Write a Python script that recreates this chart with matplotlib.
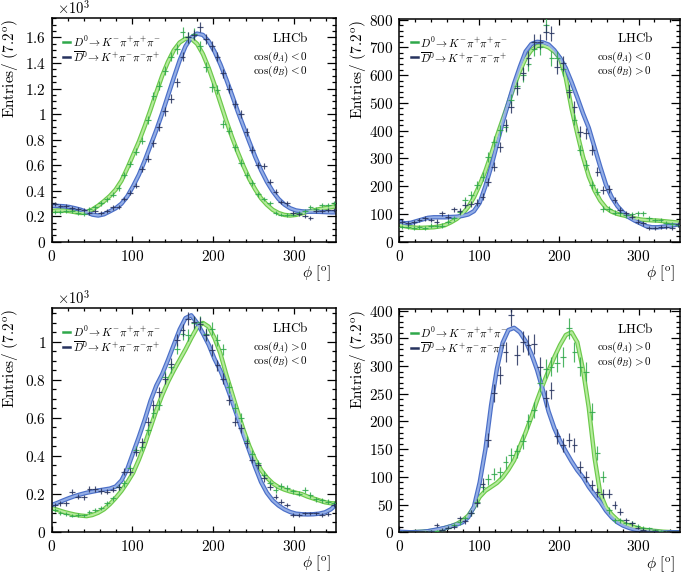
import numpy as np
import matplotlib
matplotlib.use("Agg")
import matplotlib.pyplot as plt
from matplotlib.ticker import MultipleLocator, FuncFormatter

plt.rcParams['mathtext.fontset'] = 'cm'
plt.rcParams['font.family'] = ['DejaVu Serif']

# ---------------- data ----------------
bin_width = 7.2
phi_centres = np.arange(49) * bin_width + bin_width / 2   # bin centres (deg)
fit_phi = np.arange(51) * bin_width                       # fit grid (deg)

# Panel 1: cos(theta_A)<0, cos(theta_B)<0
p1_d0 = [235, 230, 243, 238, 222, 220, 258, 272, 300, 332, 368, 420, 520, 610, 705, 790, 950,
         1140, 1220, 1340, 1450, 1510, 1640, 1600, 1630, 1530, 1370, 1210, 1190, 920, 870, 740,
         620, 520, 460, 370, 335, 305, 225, 212, 210, 212, 222, 240, 270, 258, 288, 290, 300]
p1_d0bar = [295, 282, 278, 262, 258, 245, 222, 238, 225, 238, 268, 272, 335, 385, 440, 570, 650,
            770, 900, 1020, 1120, 1250, 1450, 1600, 1620, 1680, 1590, 1530, 1450, 1320, 1200, 1080,
            1000, 860, 720, 600, 590, 470, 390, 310, 300, 225, 220, 200, 185, 240, 238, 245, 250]
p1_fit_d0 = [240, 245, 245, 240, 232, 225, 232, 252, 282, 318, 358, 408, 478, 575, 680, 785, 905,
             1035, 1170, 1300, 1410, 1500, 1560, 1590, 1590, 1550, 1470, 1360, 1230, 1090, 950, 820,
             700, 590, 490, 410, 340, 290, 250, 225, 210, 205, 210, 222, 235, 245, 255, 262, 270,
             280, 285]
p1_fit_d0bar = [280, 280, 278, 272, 262, 250, 232, 212, 205, 215, 238, 262, 298, 355, 435, 525, 635,
                755, 875, 1005, 1145, 1285, 1420, 1530, 1600, 1630, 1620, 1570, 1490, 1390, 1275,
                1150, 1020, 900, 780, 665, 560, 470, 395, 335, 292, 262, 245, 238, 235, 235, 234,
                232, 230, 230, 230]

# Panel 2: cos(theta_A)<0, cos(theta_B)>0
p2_d0 = [54, 54, 48, 52, 50, 58, 55, 58, 72, 85, 108, 150, 168, 204, 234, 306, 360, 402, 414, 510,
         560, 600, 641, 695, 700, 780, 660, 660, 623, 545, 440, 330, 276, 204, 180, 118, 118, 105,
         102, 95, 98, 102, 102, 84, 78, 78, 68, 62, 60]
p2_d0bar = [72, 66, 70, 78, 84, 78, 72, 102, 90, 116, 111, 132, 135, 141, 162, 216, 270, 342, 420,
            486, 552, 606, 660, 720, 720, 755, 750, 630, 642, 540, 486, 396, 390, 330, 252, 186, 190,
            150, 114, 102, 90, 72, 66, 50, 48, 54, 54, 48, 62]
p2_fit_d0 = [62, 56, 52, 50, 50, 51, 52, 55, 60, 70, 82, 100, 125, 160, 205, 255, 315, 380, 440, 500,
             560, 615, 660, 690, 705, 708, 700, 685, 660, 590, 480, 390, 305, 235, 185, 148, 122, 108,
             100, 95, 90, 84, 80, 78, 77, 76, 74, 72, 70, 68, 66]
p2_fit_d0bar = [72, 66, 68, 74, 80, 86, 88, 88, 88, 89, 90, 93, 98, 110, 140, 200, 270, 350, 430, 500,
                570, 630, 685, 712, 720, 718, 710, 690, 662, 625, 575, 520, 462, 410, 340, 270, 205,
                160, 128, 105, 88, 76, 66, 56, 52, 52, 54, 57, 60, 64, 66]

# Panel 3: cos(theta_A)>0, cos(theta_B)<0
p3_d0 = [114, 100, 95, 84, 88, 86, 102, 114, 125, 149, 175, 237, 254, 333, 430, 447, 535, 623, 667,
         816, 868, 965, 1040, 1035, 1100, 1105, 1040, 1070, 1010, 960, 760, 650, 600, 480, 412, 360,
         300, 254, 219, 240, 230, 212, 200, 220, 193, 170, 165, 158, 150]
p3_d0bar = [140, 150, 150, 211, 184, 181, 225, 225, 215, 211, 222, 237, 316, 316, 421, 470, 579, 667,
            737, 807, 886, 1009, 1061, 1123, 1105, 1096, 1035, 956, 877, 807, 693, 579, 544, 465, 380,
            351, 281, 237, 184, 158, 140, 88, 88, 96, 96, 96, 88, 95, 140]
p3_fit_d0 = [125, 115, 105, 97, 90, 85, 82, 88, 100, 118, 145, 178, 215, 260, 310, 380, 460, 550,
             640, 720, 790, 850, 905, 960, 1020, 1075, 1100, 1080, 1020, 940, 830, 730, 630, 535,
             450, 380, 325, 285, 255, 235, 222, 212, 205, 198, 185, 175, 165, 155, 150, 148, 146]
p3_fit_d0bar = [140, 152, 165, 177, 188, 197, 205, 211, 217, 222, 227, 238, 270, 330, 415, 500, 590,
                690, 770, 830, 905, 985, 1065, 1125, 1140, 1100, 1045, 985, 910, 850, 775, 690, 600,
                510, 425, 340, 262, 205, 165, 138, 118, 104, 95, 92, 91, 92, 95, 102, 118, 145, 160]

# Panel 4: cos(theta_A)>0, cos(theta_B)>0
p4_d0 = [1, 0, 0, 0, 1, 2, 3, 4, 8, 13, 18, 25, 35, 55, 82, 96, 105, 108, 126, 140, 146, 164, 200,
         221, 269, 295, 299, 306, 317, 368, 326, 299, 290, 218, 143, 100, 40, 22, 22, 17, 16, 12, 8,
         7, 4, 3, 1, 0, 0]
p4_d0bar = [1, 0, 0, 0, 0, 2, 13, 5, 8, 10, 25, 20, 35, 52, 88, 167, 251, 284, 326, 392, 320, 344,
            338, 340, 299, 242, 256, 173, 158, 167, 158, 118, 100, 85, 72, 70, 70, 49, 37, 22, 16, 8,
            5, 3, 2, 1, 0, 0, 0]
p4_fit_d0 = [0, 0, 0, 0.5, 1, 2, 3, 5, 8, 11, 15, 21, 30, 45, 64, 75, 82, 89, 99, 113, 130, 155, 180,
             208, 238, 266, 292, 316, 338, 356, 361, 343, 293, 225, 135, 70, 45, 32, 22, 16, 12, 9,
             6, 4, 3, 2, 1, 0.5, 0, 0, 0]
p4_fit_d0bar = [1, 0.5, 0, 0.5, 1, 2, 4, 6, 8, 11, 14, 18, 27, 46, 90, 150, 230, 295, 342, 365, 369,
                361, 345, 322, 293, 257, 218, 188, 165, 146, 128, 112, 99, 82, 68, 55, 39, 27, 18,
                12, 8, 5, 3, 2, 1, 0.5, 0, 0, 0, 0, 0]

panel_cuts = [(r'$\cos(\theta_{A}) < 0$', r'$\cos(\theta_{B}) < 0$'),
              (r'$\cos(\theta_{A}) < 0$', r'$\cos(\theta_{B}) > 0$'),
              (r'$\cos(\theta_{A}) > 0$', r'$\cos(\theta_{B}) < 0$'),
              (r'$\cos(\theta_{A}) > 0$', r'$\cos(\theta_{B}) > 0$')]
legend_labels = [r'$D^{0}\!\rightarrow K^{-}\pi^{+}\pi^{+}\pi^{-}$',
                 r'$\overline{D}^{0}\!\rightarrow K^{+}\pi^{-}\pi^{-}\pi^{+}$']

# ---------------- style ----------------
W, H = 685, 574
fig = plt.figure(figsize=(W / 100, H / 100), dpi=100)

green_pt = '#2fa84a'
navy_pt = '#26325e'
green_edge = '#6cc94a'
green_fill = '#b5eb9c'
blue_edge = '#4b6fc8'
blue_fill = '#94aee6'

panels = [
    dict(rect=(51.7, 18.3, 336, 241.7), d0=p1_d0, d0bar=p1_d0bar, f0=p1_fit_d0, f0bar=p1_fit_d0bar,
         ymax=1750, major=200, minor=50, scale=1000, cuts=panel_cuts[0]),
    dict(rect=(399.3, 18.5, 680, 241.7), d0=p2_d0, d0bar=p2_d0bar, f0=p2_fit_d0, f0bar=p2_fit_d0bar,
         ymax=804, major=100, minor=20, scale=1, cuts=panel_cuts[1]),
    dict(rect=(51.7, 308.3, 336, 531.7), d0=p3_d0, d0bar=p3_d0bar, f0=p3_fit_d0, f0bar=p3_fit_d0bar,
         ymax=1177, major=200, minor=50, scale=1000, cuts=panel_cuts[2]),
    dict(rect=(399.3, 309, 680, 532.3), d0=p4_d0, d0bar=p4_d0bar, f0=p4_fit_d0, f0bar=p4_fit_d0bar,
         ymax=403, major=50, minor=10, scale=1, cuts=panel_cuts[3]),
]

for p in panels:
    l, t, r, b = p['rect']
    ax = fig.add_axes([l / W, 1 - b / H, (r - l) / W, (b - t) / H])

    # fit bands (edge + lighter centre)
    for fit, edge, fill in ((p['f0'], green_edge, green_fill), (p['f0bar'], blue_edge, blue_fill)):
        ax.plot(fit_phi, fit, color=edge, lw=3.2, solid_joinstyle='round', zorder=2)
        ax.plot(fit_phi, fit, color=fill, lw=1.5, solid_joinstyle='round', zorder=2.1)

    # data points
    for vals, col in ((p['d0'], green_pt), (p['d0bar'], navy_pt)):
        v = np.asarray(vals, dtype=float)
        ax.errorbar(phi_centres, v, xerr=bin_width / 2, yerr=np.sqrt(v), fmt='none',
                    ecolor=col, elinewidth=0.85, capsize=0, alpha=0.85, zorder=3)

    ax.set_xlim(0, 352)
    ax.set_ylim(0, p['ymax'])
    ax.xaxis.set_major_locator(MultipleLocator(100))
    ax.xaxis.set_minor_locator(MultipleLocator(20))
    ax.yaxis.set_major_locator(MultipleLocator(p['major']))
    ax.yaxis.set_minor_locator(MultipleLocator(p['minor']))
    sc = p['scale']
    ax.yaxis.set_major_formatter(FuncFormatter(lambda v, pos, sc=sc: r'$%g$' % round(v / sc, 3)))
    ax.xaxis.set_major_formatter(FuncFormatter(lambda v, pos: r'$%g$' % v))

    ax.tick_params(axis='both', which='both', direction='in', top=True, right=True,
                   labelsize=11, width=0.9)
    ax.tick_params(axis='x', which='major', length=4.3, pad=5)
    ax.tick_params(axis='x', which='minor', length=2.2)
    ax.tick_params(axis='y', which='major', length=6.5, pad=4)
    ax.tick_params(axis='y', which='minor', length=3.2)
    for s in ax.spines.values():
        s.set_linewidth(1.1)

    # axis labels
    ax.text(-0.148, 0.995, r'$\mathrm{Entries/\ (7.2^{o})}$', transform=ax.transAxes,
            rotation=90, ha='center', va='top', fontsize=11)
    ax.text(0.985, -0.143, r'$\phi\ [^{\mathrm{o}}]$', transform=ax.transAxes,
            ha='right', va='center', fontsize=11)
    if sc == 1000:
        ax.text(0.02, 1.005, r'$\times10^{3}$', transform=ax.transAxes,
                ha='left', va='bottom', fontsize=10.5)

    # legend
    for k, (lab, col) in enumerate(zip(legend_labels, (green_pt, navy_pt))):
        yy = 0.893 - k * 0.067
        ax.plot([0.041, 0.066], [yy, yy], color=col, lw=1.8, transform=ax.transAxes,
                clip_on=False, zorder=5)
        ax.text(0.075, yy, lab, transform=ax.transAxes, ha='left', va='center', fontsize=8)

    # LHCb label and selection
    ax.text(0.905, 0.912, r'$\mathrm{LHCb}$', transform=ax.transAxes, ha='right', va='center',
            fontsize=9.5)
    ax.text(0.9, 0.826, p['cuts'][0], transform=ax.transAxes, ha='right', va='center', fontsize=8)
    ax.text(0.9, 0.763, p['cuts'][1], transform=ax.transAxes, ha='right', va='center', fontsize=8)

fig.savefig('out.png', dpi=100)
